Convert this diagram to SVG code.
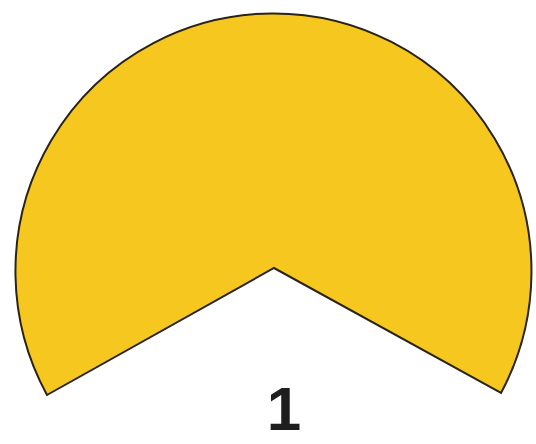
<svg xmlns="http://www.w3.org/2000/svg" width="536" height="444" viewBox="0 0 536 444">
<style>
.shape{fill:#F5C71F;stroke:#2a2418;stroke-width:2;stroke-linejoin:miter}
.lbl{font-family:"Liberation Sans",Arial,sans-serif;font-weight:bold;font-size:62px;fill:#1e1e1e}
</style>
<rect width="536" height="444" fill="#ffffff"/>
<g id="sector">
<path class="shape" d="M 47 395 L 274 268 L 501 393 A 258 258 0 1 0 47 395 Z"/>
</g>
<g id="label">
<text class="lbl" x="284" y="430" text-anchor="middle">1</text>
</g>
</svg>
